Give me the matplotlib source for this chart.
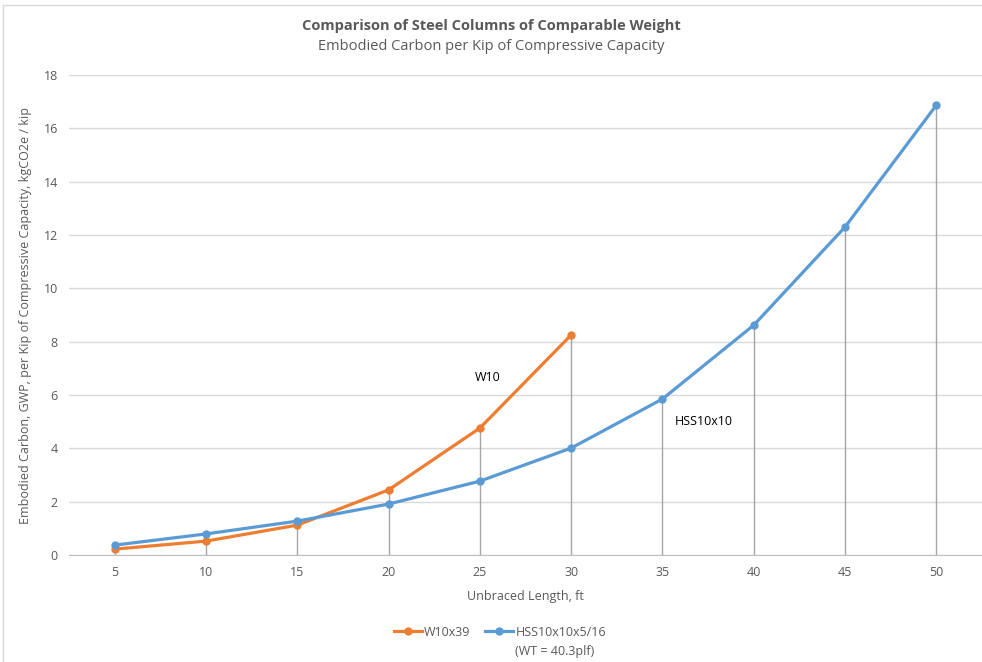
import matplotlib.pyplot as plt

# data
lengths = [5, 10, 15, 20, 25, 30, 35, 40, 45, 50]
w10_len = [5, 10, 15, 20, 25, 30]
w10_vals = [0.22, 0.52, 1.12, 2.44, 4.76, 8.25]
hss_vals = [0.37, 0.79, 1.27, 1.91, 2.77, 4.01, 5.85, 8.62, 12.30, 16.87]
y_ticks = [0, 2, 4, 6, 8, 10, 12, 14, 16, 18]

orange = '#ED7D31'
blue = '#5B9BD5'
txt = '#595959'

plt.rcParams['font.family'] = ['Open Sans', 'DejaVu Sans']

fig = plt.figure(figsize=(9.82, 6.62), dpi=100)
ax = fig.add_axes([69 / 982, 107 / 662, 913 / 982, 480 / 662])

# drop lines from the highest point down to the axis
tops = [max(h, w10_vals[i]) if i < len(w10_vals) else h for i, h in enumerate(hss_vals)]
ax.vlines(lengths, 0, tops, color='#A5A5A5', lw=1, zorder=1)

ax.plot(w10_len, w10_vals, color=orange, lw=2.3, marker='o', ms=5, zorder=3,
        label='W10x39')
ax.plot(lengths, hss_vals, color=blue, lw=2.3, marker='o', ms=5, zorder=3,
        label='HSS10x10x5/16')

ax.text(24.7, 6.67, 'W10', fontsize=9, color='black', va='center')
ax.text(35.65, 5.02, 'HSS10x10', fontsize=9, color='black', va='center')

ax.set_xlim(2.5, 52.5)
ax.set_ylim(0, 18)
ax.set_xticks(lengths)
ax.set_yticks(y_ticks)
ax.tick_params(length=0, labelsize=9, colors=txt, pad=8)
ax.grid(axis='y', color='#D9D9D9', lw=1)
ax.set_axisbelow(True)
for s in ['top', 'right', 'left']:
    ax.spines[s].set_visible(False)
ax.spines['bottom'].set_color('#BFBFBF')

ax.set_xlabel('Unbraced Length, ft', fontsize=9, color=txt, labelpad=8)
ax.set_ylabel('Embodied Carbon, GWP, per Kip of Compressive Capacity, kgCO2e / kip',
              fontsize=9, color=txt, labelpad=8)

fig.text(0.5, 1 - 26 / 662, 'Comparison of Steel Columns of Comparable Weight',
         ha='center', va='center', fontsize=10.5, fontweight='bold', color=txt)
fig.text(0.5, 1 - 47 / 662, 'Embodied Carbon per Kip of Compressive Capacity',
         ha='center', va='center', fontsize=10.5, color=txt)

leg = fig.legend(loc='center', bbox_to_anchor=(500 / 982, 1 - 632 / 662), ncol=2,
                 frameon=False, fontsize=9, handlelength=2.2, columnspacing=1.2,
                 handletextpad=0.2)
for t in leg.get_texts():
    t.set_color(txt)
fig.text(515 / 982, 1 - 651 / 662, '(WT = 40.3plf)', fontsize=9, color=txt,
         ha='left', va='center')

# chart border lines (cropped chart area)
fig.add_artist(plt.Line2D([3 / 982, 3 / 982], [0, 1 - 5 / 662], color='#D9D9D9', lw=1))
fig.add_artist(plt.Line2D([3 / 982, 1], [1 - 5 / 662, 1 - 5 / 662], color='#D9D9D9', lw=1))

fig.savefig('out.png', dpi=100)
